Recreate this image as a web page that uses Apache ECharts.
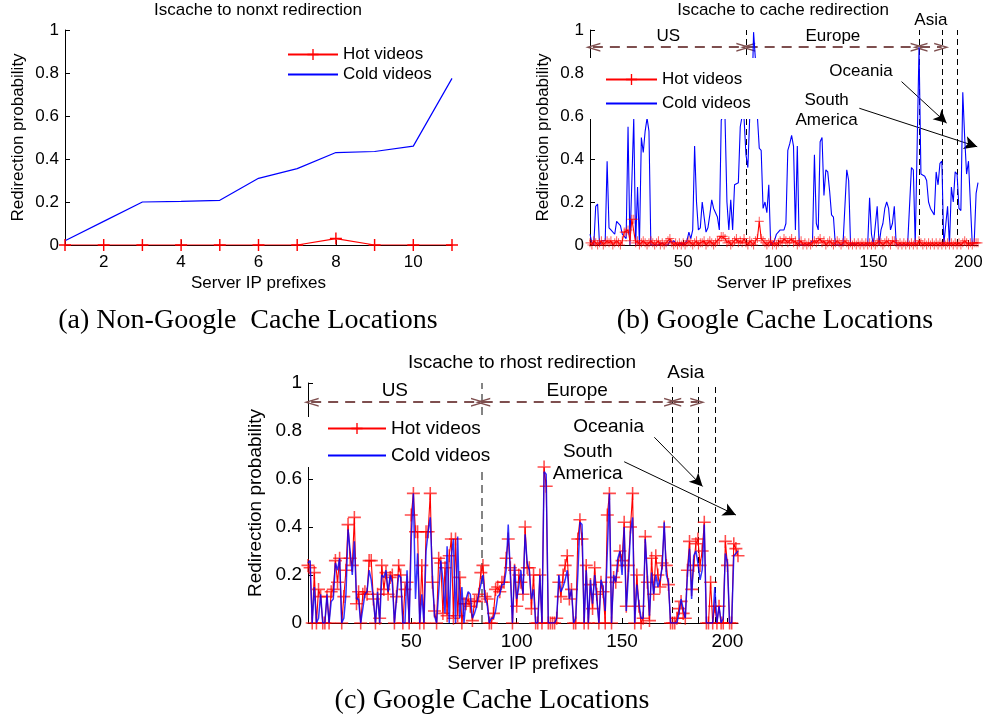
<!DOCTYPE html>
<html><head><meta charset="utf-8">
<script src="https://cdn.jsdelivr.net/npm/echarts@6/dist/echarts.min.js"></script>
<style>html,body{margin:0;padding:0;background:#fff}#c{width:986px;height:720px}</style>
</head><body><div id="c"></div>
<script>
// ---------- data ----------
const prefixesA = [1,2,3,4,5,6,7,8,9,10,11];
const hotA  = [0,0,0,0,0,0,0,0.03,0,0,0];
const coldA = [0.02,0.11,0.2,0.203,0.208,0.31,0.355,0.43,0.435,0.46,0.775];

const hotB = [
0.01,0.0,0.02,0.01,0.0,0.01,0.02,0.0,0.01,0.02,
0.01,0.02,0.0,0.01,0.02,0.01,0.0,0.02,0.06,0.06,
0.07,0.02,0.12,0.12,0.01,0.02,0.0,0.01,0.02,0.01,
0.0,0.01,0.02,0.01,0.0,0.01,0.02,0.0,0.01,0.0,
0.01,0.02,0.03,0.01,0.0,0.01,0.0,0.01,0.0,0.01,
0.0,0.01,0.02,0.01,0.0,0.01,0.02,0.0,0.01,0.01,
0.02,0.0,0.01,0.02,0.01,0.0,0.01,0.02,0.02,0.04,
0.04,0.03,0.01,0.02,0.0,0.01,0.02,0.03,0.01,0.02,
0.01,0.03,0.01,0.0,0.02,0.01,0.0,0.02,0.03,0.11,
0.03,0.02,0.01,0.0,0.01,0.02,0.0,0.01,0.0,0.01,
0.02,0.01,0.03,0.02,0.01,0.02,0.03,0.01,0.02,0.0,
0.01,0.02,0.0,0.01,0.0,0.01,0.0,0.01,0.02,0.01,
0.02,0.03,0.01,0.02,0.0,0.01,0.02,0.01,0.0,0.01,
0.02,0.01,0.0,0.01,0.02,0.01,0.0,0.01,0.0,0.01,
0.0,0.01,0.0,0.01,0.0,0.01,0.0,0.01,0.0,0.01,
0.0,0.01,0.02,0.01,0.0,0.01,0.02,0.01,0.0,0.02,
0.02,0.01,0.0,0.01,0.0,0.01,0.0,0.01,0.0,0.01,
0.0,0.01,0.0,0.02,0.01,0.0,0.01,0.0,0.01,0.0,
0.01,0.0,0.01,0.0,0.01,0.0,0.01,0.0,0.01,0.0,
0.01,0.0,0.01,0.0,0.01,0.0,0.01,0.02,0.01,0.0,
0.01,0.0,0.01,0.01,0.01];
const coldB = [
0.05,0.01,0.0,0.18,0.19,0.0,0.02,0.02,0.02,0.39,
0.08,0.07,0.07,0.05,0.11,0.11,0.09,0.05,0.04,0.03,
0.55,0.0,0.0,0.59,0.0,0.27,0.0,0.5,0.43,0.53,
0.59,0.53,0.0,0.0,0.0,0.0,0.0,0.0,0.01,0.0,
0.0,0.0,0.02,0.01,0.02,0.01,0.0,0.0,0.01,0.0,
0.0,0.02,0.06,0.03,0.07,0.46,0.2,0.07,0.08,0.2,
0.2,0.06,0.08,0.14,0.21,0.17,0.17,0.13,0.07,0.58,
0.6,0.59,0.2,0.07,0.21,0.07,0.28,0.28,0.29,0.55,
0.6,0.59,0.42,0.36,0.6,0.62,0.99,0.86,0.6,0.45,
0.44,0.17,0.2,0.15,0.28,0.0,0.0,0.02,0.05,0.06,
0.07,0.07,0.07,0.1,0.44,0.47,0.51,0.46,0.07,0.46,
0.0,0.0,0.0,0.0,0.0,0.0,0.01,0.02,0.42,0.1,
0.07,0.48,0.5,0.23,0.35,0.34,0.25,0.14,0.13,0.0,
0.0,0.0,0.0,0.0,0.0,0.35,0.3,0.0,0.01,0.0,
0.0,0.01,0.0,0.0,0.0,0.0,0.0,0.22,0.05,0.0,
0.0,0.18,0.0,0.07,0.1,0.17,0.2,0.17,0.07,0.1,
0.18,0.0,0.0,0.0,0.0,0.0,0.0,0.0,0.0,0.36,
0.35,0.0,0.0,0.92,0.33,0.33,0.32,0.3,0.2,0.17,
0.17,0.14,0.34,0.28,0.38,0.39,0.0,0.0,0.18,0.0,
0.27,0.2,0.34,0.33,0.17,0.16,0.71,0.5,0.33,0.39,
0.39,0.0,0.01,0.24,0.29];

const hotC = [
0.24,0.23,0.0,0.21,0.0,0.14,0.11,0.0,0.0,0.11,
0.0,0.13,0.14,0.26,0.17,0.27,0.0,0.11,0.22,0.41,
0.27,0.24,0.44,0.08,0.13,0.0,0.12,0.13,0.12,0.26,
0.26,0.1,0.0,0.12,0.02,0.24,0.14,0.21,0.12,0.19,
0.2,0.0,0.11,0.24,0.2,0.0,0.14,0.17,0.0,0.45,
0.54,0.38,0.38,0.0,0.24,0.0,0.38,0.38,0.54,0.17,
0.05,0.0,0.27,0.25,0.04,0.23,0.03,0.28,0.35,0.02,
0.35,0.03,0.19,0.0,0.08,0.08,0.1,0.07,0.01,0.09,
0.09,0.12,0.21,0.24,0.11,0.1,0.0,0.0,0.04,0.14,
0.15,0.13,0.17,0.17,0.27,0.35,0.23,0.0,0.22,0.07,
0.2,0.17,0.12,0.4,0.23,0.23,0.06,0.2,0.0,0.0,
0.2,0.0,0.65,0.57,0.0,0.0,0.0,0.0,0.02,0.17,
0.11,0.2,0.24,0.28,0.1,0.14,0.0,0.0,0.35,0.43,
0.35,0.0,0.24,0.0,0.16,0.06,0.23,0.12,0.0,0.17,
0.13,0.0,0.45,0.54,0.0,0.19,0.17,0.24,0.3,0.26,
0.42,0.07,0.24,0.4,0.54,0.0,0.2,0.07,0.0,0.02,
0.36,0.17,0.01,0.27,0.12,0.28,0.2,0.15,0.25,0.4,
0.24,0.16,0.0,0.0,0.0,0.02,0.06,0.09,0.04,0.02,
0.22,0.34,0.14,0.24,0.33,0.35,0.24,0.3,0.42,0.0,
0.0,0.17,0.0,0.07,0.0,0.07,0.0,0.0,0.34,0.24,
0.0,0.0,0.33,0.31,0.28];
const coldC = [
0.25,0.26,0.0,0.15,0.0,0.02,0.12,0.0,0.0,0.12,
0.0,0.09,0.1,0.25,0.22,0.27,0.0,0.02,0.12,0.39,
0.3,0.2,0.34,0.1,0.1,0.0,0.06,0.12,0.13,0.22,
0.18,0.1,0.0,0.13,0.0,0.2,0.19,0.22,0.13,0.2,
0.17,0.0,0.1,0.2,0.19,0.0,0.0,0.22,0.0,0.36,
0.54,0.1,0.29,0.0,0.12,0.0,0.3,0.38,0.44,0.2,
0.03,0.0,0.13,0.26,0.18,0.04,0.32,0.0,0.28,0.35,
0.0,0.36,0.02,0.15,0.0,0.1,0.13,0.12,0.02,0.04,
0.07,0.12,0.16,0.2,0.1,0.08,0.0,0.02,0.02,0.05,
0.11,0.12,0.16,0.16,0.22,0.41,0.2,0.0,0.24,0.1,
0.15,0.22,0.12,0.37,0.25,0.22,0.1,0.14,0.0,0.0,
0.2,0.0,0.63,0.62,0.0,0.0,0.0,0.0,0.02,0.2,
0.13,0.15,0.18,0.22,0.1,0.14,0.0,0.02,0.2,0.42,
0.41,0.0,0.22,0.0,0.18,0.08,0.2,0.1,0.0,0.18,
0.15,0.05,0.3,0.54,0.0,0.2,0.17,0.27,0.3,0.2,
0.4,0.05,0.2,0.38,0.44,0.0,0.16,0.08,0.02,0.02,
0.35,0.2,0.03,0.21,0.12,0.2,0.15,0.18,0.23,0.42,
0.2,0.17,0.0,0.0,0.0,0.0,0.04,0.1,0.06,0.02,
0.2,0.31,0.1,0.28,0.3,0.25,0.18,0.22,0.41,0.0,
0.0,0.0,0.0,0.15,0.0,0.07,0.0,0.02,0.29,0.25,
0.0,0.0,0.28,0.29,0.3];

const seriesNames = ['Hot videos', 'Cold videos'];
const regionNames = ['US', 'Europe', 'Asia'];
const otherRegions = ['Oceania', 'South\nAmerica'];
// region boundaries (server IP prefix index)
const boundaries = [83.4, 174, 186.2, 194];

// ---------- styling ----------
const FONT = "'Liberation Sans', Arial, Helvetica, sans-serif";
const SERIF = "'Liberation Serif', 'DejaVu Serif', serif";
const PLUS = 'path://M4.4,0 L5.6,0 L5.6,4.4 L10,4.4 L10,5.6 L5.6,5.6 L5.6,10 L4.4,10 L4.4,5.6 L0,5.6 L0,4.4 L4.4,4.4 Z';
const CHEV = 'path://M0,16 L5,0 L10,16 L8.4,16 L5,4.8 L1.6,16 Z';
const BROWN = '#7e4f4f';

function xy(xs, ys) { return ys.map((v, i) => [xs ? xs[i] : i + 1, v]); }

function yAxisCfg(gi, fs, gap) {
  return {
    gridIndex: gi, type: 'value', min: 0, max: 1, interval: 0.2,
    name: 'Redirection probability', nameLocation: 'middle', nameGap: gap,
    nameTextStyle: { fontFamily: FONT, fontSize: fs, color: '#000' },
    axisLine: { show: true, lineStyle: { color: '#000', width: 1 } },
    axisTick: { show: true, inside: true, length: 5, lineStyle: { color: '#000' } },
    axisLabel: { fontFamily: FONT, fontSize: fs, color: '#000', margin: 6 },
    splitLine: { show: false }
  };
}
function xAxisCfg(gi, min, max, fs, gap) {
  return {
    gridIndex: gi, type: 'value', min: min, max: max, splitNumber: 5,
    name: 'Server IP prefixes', nameLocation: 'middle', nameGap: gap,
    nameTextStyle: { fontFamily: FONT, fontSize: fs, color: '#000' },
    axisLine: { show: true, onZero: false, lineStyle: { color: '#000', width: 1 } },
    axisTick: { show: true, inside: true, length: 5, lineStyle: { color: '#000' } },
    axisLabel: { fontFamily: FONT, fontSize: fs, color: '#000', margin: 9, showMinLabel: false, showMaxLabel: false },
    splitLine: { show: false }
  };
}
function legendCfg(left, top, pad, iw, gap, fs) {
  return {
    orient: 'vertical', left: left, top: top, padding: pad, itemWidth: iw, itemHeight: 14,
    itemGap: gap, selectedMode: false, backgroundColor: '#fff', z: 10,
    textStyle: { fontFamily: FONT, fontSize: fs, color: '#000' },
    data: seriesNames
  };
}
function annotations(fs, lh, pos) {
  const dashBlack = { color: '#000', width: 1, type: [6, 4] };
  const brown = { color: BROWN, width: 2, type: [10, 7] };
  const regionLabel = (t, d) => ({ show: true, formatter: t, position: 'insideMiddleTop', distance: d,
    color: '#000', fontFamily: FONT, fontSize: fs });
  const arrowPair = (a, b, name, d) => [
    { coord: [a, 0.92], symbol: CHEV, symbolSize: [9, 15], lineStyle: brown, label: regionLabel(name, d) },
    { coord: [b, 0.92], symbol: CHEV, symbolSize: [9, 15] }
  ];
  return {
    markLine: {
      silent: true, animation: false, z: 1, symbol: ['none', 'none'], label: { show: false },
      data: [
        { xAxis: boundaries[0], lineStyle: pos.firstLine || dashBlack },
        { xAxis: boundaries[1], lineStyle: dashBlack },
        { xAxis: boundaries[2], lineStyle: dashBlack },
        { xAxis: boundaries[3], lineStyle: dashBlack },
        arrowPair(2.5, boundaries[0] - 1.5, regionNames[0], 2),
        arrowPair(boundaries[0] + 0.5, boundaries[1] - 0.5, regionNames[1], 2),
        arrowPair(boundaries[1] + 0.5, boundaries[2] - 0.3, regionNames[2], pos.asiaDist),
        [{ coord: pos.oceStart, lineStyle: { color: '#000', width: 1, type: 'solid' } },
         { coord: pos.oceEnd, symbol: 'arrow', symbolSize: [10, 13] }],
        [{ coord: pos.saStart, lineStyle: { color: '#000', width: 1, type: 'solid' } },
         { coord: pos.saEnd, symbol: 'arrow', symbolSize: [10, 13] }]
      ]
    },
    markPoint: {
      silent: true, animation: false, symbol: 'circle', symbolSize: 1,
      itemStyle: { color: 'rgba(0,0,0,0)' },
      label: { show: true, position: 'inside', color: '#000', fontFamily: FONT, fontSize: fs, lineHeight: lh, align: 'center' },
      data: [
        { coord: pos.oceText, label: { formatter: otherRegions[0] } },
        { coord: pos.saText, label: { formatter: otherRegions[1] } }
      ]
    }
  };
}

const chart = echarts.init(document.getElementById('c'), null, { renderer: 'canvas' });

const option = {
  animation: false,
  backgroundColor: '#fff',
  title: [
    { text: 'Iscache to nonxt redirection', left: 258, top: 2, textAlign: 'center', padding: 0,
      textStyle: { fontFamily: FONT, fontSize: 17, fontWeight: 'normal', color: '#000' } },
    { text: 'Iscache to cache redirection', left: 783, top: 2, textAlign: 'center', padding: 0,
      textStyle: { fontFamily: FONT, fontSize: 17, fontWeight: 'normal', color: '#000' } },
    { text: 'Iscache to rhost redirection', left: 522, top: 353, textAlign: 'center', padding: 0,
      textStyle: { fontFamily: FONT, fontSize: 19, fontWeight: 'normal', color: '#000' } },
    { text: '(a) Non-Google  Cache Locations', left: 248, top: 307, textAlign: 'center', padding: 0,
      textStyle: { fontFamily: SERIF, fontSize: 28, fontWeight: 'normal', color: '#000' } },
    { text: '(b) Google Cache Locations', left: 775, top: 307, textAlign: 'center', padding: 0,
      textStyle: { fontFamily: SERIF, fontSize: 28, fontWeight: 'normal', color: '#000' } },
    { text: '(c) Google Cache Locations', left: 492, top: 687, textAlign: 'center', padding: 0,
      textStyle: { fontFamily: SERIF, fontSize: 28, fontWeight: 'normal', color: '#000' } }
  ],
  grid: [
    { left: 65, top: 30, width: 387, height: 215 },
    { left: 590, top: 30, width: 388, height: 215 },
    { left: 308, top: 383, width: 430, height: 240 }
  ],
  xAxis: [
    xAxisCfg(0, 1, 11, 17, 30),
    xAxisCfg(1, 1, 205, 17, 30),
    xAxisCfg(2, 1, 205, 19, 31)
  ],
  yAxis: [
    yAxisCfg(0, 17, 38),
    yAxisCfg(1, 17, 38),
    yAxisCfg(2, 19, 43)
  ],
  legend: [
    legendCfg(282, 41, [5, 10, 5, 5], 50, 3, 17),
    legendCfg(590, 58, [13, 12, 7, 15], 51, 7, 17),
    legendCfg(307, 417, [2, 12, 2, 20], 58, 8, 19)
  ],
  series: [
    { type: 'line', name: seriesNames[0], xAxisIndex: 0, yAxisIndex: 0, data: xy(prefixesA, hotA),
      symbol: PLUS, symbolSize: 12, lineStyle: { color: '#ff0000', width: 1.2 }, itemStyle: { color: '#ff0000' }, z: 3 },
    { type: 'line', name: seriesNames[1], xAxisIndex: 0, yAxisIndex: 0, data: xy(prefixesA, coldA),
      showSymbol: false, symbol: 'none', lineStyle: { color: '#0000ff', width: 1.2 }, itemStyle: { color: 'rgba(0,0,0,0)' }, z: 2 },

    Object.assign({ type: 'line', name: seriesNames[1], xAxisIndex: 1, yAxisIndex: 1, data: xy(null, coldB),
      showSymbol: false, symbol: 'none', lineStyle: { color: '#0000ff', width: 1.1 }, itemStyle: { color: 'rgba(0,0,0,0)' }, z: 2 },
      annotations(17, 20, {
        oceStart: [164.8, 0.76], oceEnd: [188.5, 0.567], saStart: [142.6, 0.636], saEnd: [204.6, 0.457],
        oceText: [143.5, 0.81], saText: [125.4, 0.627], asiaDist: 18
      })),
    { type: 'line', name: seriesNames[0], xAxisIndex: 1, yAxisIndex: 1, data: xy(null, hotB),
      symbol: PLUS, symbolSize: 9, lineStyle: { color: '#ff0000', width: 1.1 }, itemStyle: { color: '#ff0000', opacity: 0.6 }, z: 3 },

    { type: 'line', name: seriesNames[0], xAxisIndex: 2, yAxisIndex: 2, data: xy(null, hotC),
      symbol: PLUS, symbolSize: 13, lineStyle: { color: '#ff0000', width: 1.1 }, itemStyle: { color: '#ff0000', opacity: 0.7 }, z: 2 },
    Object.assign({ type: 'line', name: seriesNames[1], xAxisIndex: 2, yAxisIndex: 2, data: xy(null, coldC),
      showSymbol: false, symbol: 'none', lineStyle: { color: 'rgba(0,0,255,0.8)', width: 1.5 }, itemStyle: { color: 'rgba(0,0,0,0)' }, z: 3 },
      annotations(19, 22, {
        oceStart: [165.3, 0.774], oceEnd: [188.2, 0.569], saStart: [151, 0.672], saEnd: [204, 0.45],
        oceText: [143.6, 0.818], saText: [133.7, 0.667], asiaDist: 20,
        firstLine: { color: '#666', width: 1.6, type: [8, 5] }
      }))
  ]
};
chart.setOption(option);
</script>
</body></html>
